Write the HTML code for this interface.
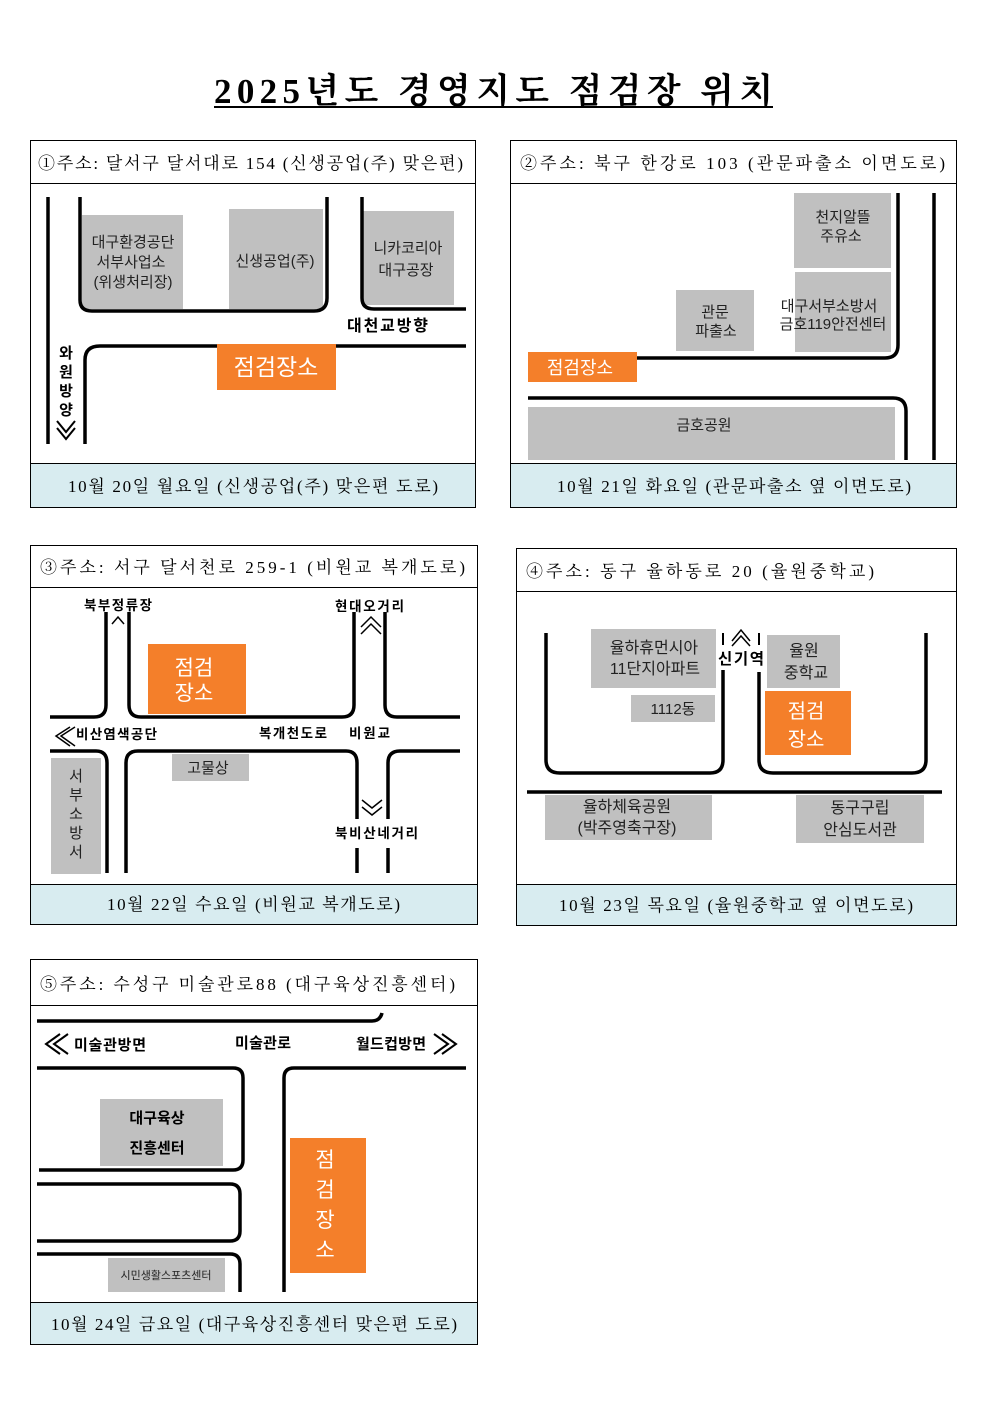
<!DOCTYPE html>
<html><head><meta charset="utf-8"><style>
html,body{margin:0;padding:0;background:#fff}
svg{display:block}
.s{font-family:"Liberation Serif","Noto Serif CJK SC",serif;fill:#000}
.g{font-family:"Liberation Sans","Noto Sans CJK KR",sans-serif;fill:#222}
.b{font-family:"Liberation Sans","Noto Sans CJK KR",sans-serif;font-weight:bold;fill:#000}
.w{font-family:"Liberation Sans","Noto Sans CJK KR",sans-serif;fill:#fff}
.r{fill:none;stroke:#000;stroke-width:3.5}
.gr{fill:#c0c0c0}
.o{fill:#f47f2a}
.ft{fill:#d8ecf0}
.bx{fill:none;stroke:#000;stroke-width:1}
</style></head><body>
<svg width="992" height="1403" viewBox="0 0 992 1403" xmlns="http://www.w3.org/2000/svg">
<rect width="992" height="1403" fill="#fff"/>
<text x="214" y="103" class="s" font-size="35" font-weight="bold" textLength="559" lengthAdjust="spacing">2025년도 경영지도 점검장 위치</text>
<line x1="214" y1="107" x2="773" y2="107" stroke="#000" stroke-width="2"/>

<!-- Panel 1 -->
<rect x="30" y="463" width="446" height="45" class="ft"/>
<rect x="30.5" y="140.5" width="445" height="367" class="bx"/>
<line x1="30" y1="183.5" x2="476" y2="183.5" stroke="#000"/>
<line x1="30" y1="463.5" x2="476" y2="463.5" stroke="#000"/>
<text x="38" y="169" class="s" font-size="17" textLength="425">①주소: 달서구 달서대로 154 (신생공업(주) 맞은편)</text>
<text x="68" y="492" class="s" font-size="17" textLength="370">10월 20일 월요일 (신생공업(주) 맞은편 도로)</text>
<rect x="82" y="215" width="101" height="94" class="gr"/>
<rect x="229" y="209" width="94" height="100" class="gr"/>
<rect x="363" y="211" width="91" height="94" class="gr"/>
<path class="r" d="M48 197 V444"/>
<path class="r" d="M80 197 V300 Q80 311 92 311 H314 Q327 311 327 298 V197"/>
<path class="r" d="M362 197 V298 Q362 309 374 309 H466"/>
<path class="r" d="M466 346 H100 Q85 346 85 360 V444"/>
<text x="133" y="247" class="g" font-size="15" text-anchor="middle">대구환경공단</text>
<text x="131" y="267" class="g" font-size="15" text-anchor="middle">서부사업소</text>
<text x="133" y="287" class="g" font-size="15" text-anchor="middle">(위생처리장)</text>
<text x="275" y="266" class="g" font-size="15" text-anchor="middle">신생공업(주)</text>
<text x="408" y="253" class="g" font-size="15" text-anchor="middle">니카코리아</text>
<text x="406" y="275" class="g" font-size="15" text-anchor="middle">대구공장</text>
<text x="347" y="331" class="b" font-size="16" textLength="81">대천교방향</text>
<rect x="217" y="344" width="119" height="46" class="o"/>
<text x="276" y="375" class="w" font-size="23" text-anchor="middle">점검장소</text>
<text x="66" y="358" class="b" font-size="15" text-anchor="middle">와</text>
<text x="66" y="377" class="b" font-size="15" text-anchor="middle">원</text>
<text x="66" y="396" class="b" font-size="15" text-anchor="middle">방</text>
<text x="66" y="415" class="b" font-size="15" text-anchor="middle">양</text>
<path d="M57 421 L66 432 L75 421 M57 428 L66 439 L75 428" fill="none" stroke="#000" stroke-width="2"/>

<!-- Panel 2 -->
<rect x="510" y="463" width="447" height="45" class="ft"/>
<rect x="510.5" y="140.5" width="446" height="367" class="bx"/>
<line x1="510" y1="183.5" x2="957" y2="183.5" stroke="#000"/>
<line x1="510" y1="463.5" x2="957" y2="463.5" stroke="#000"/>
<text x="520" y="169" class="s" font-size="17" textLength="425">②주소: 북구 한강로 103 (관문파출소 이면도로)</text>
<text x="557" y="492" class="s" font-size="17" textLength="354">10월 21일 화요일 (관문파출소 옆 이면도로)</text>
<rect x="794" y="193" width="97" height="75" class="gr"/>
<rect x="795" y="272" width="96" height="80" class="gr"/>
<rect x="676" y="290" width="78" height="61" class="gr"/>
<rect x="528" y="407" width="367" height="53" class="gr"/>
<path class="r" d="M898 193 V345 Q898 358 885 358 H637"/>
<path class="r" d="M934 193 V460"/>
<path class="r" d="M528 398 H893 Q906 398 906 411 V460"/>
<text x="843" y="222" class="g" font-size="15" text-anchor="middle">천지알뜰</text>
<text x="841" y="241" class="g" font-size="15" text-anchor="middle">주유소</text>
<text x="715" y="317" class="g" font-size="15" text-anchor="middle">관문</text>
<text x="716" y="336" class="g" font-size="15" text-anchor="middle">파출소</text>
<text x="829" y="311" class="g" font-size="15" text-anchor="middle">대구서부소방서</text>
<text x="833" y="329" class="g" font-size="15" text-anchor="middle">금호119안전센터</text>
<text x="704" y="430" class="g" font-size="15" text-anchor="middle">금호공원</text>
<rect x="528" y="352" width="109" height="30" class="o"/>
<text x="580" y="374" class="w" font-size="18" text-anchor="middle">점검장소</text>

<!-- Panel 3 -->
<rect x="30" y="884" width="448" height="41" class="ft"/>
<rect x="30.5" y="545.5" width="447" height="379" class="bx"/>
<line x1="30" y1="587.5" x2="478" y2="587.5" stroke="#000"/>
<line x1="30" y1="884.5" x2="478" y2="884.5" stroke="#000"/>
<text x="40" y="573" class="s" font-size="17" textLength="425">③주소: 서구 달서천로 259-1 (비원교 복개도로)</text>
<text x="107" y="910" class="s" font-size="17" textLength="293">10월 22일 수요일 (비원교 복개도로)</text>
<path class="r" d="M106 612 V705 Q106 717 94 717 H50"/>
<path class="r" d="M129 612 V705 Q129 717 141 717 H342 Q354 717 354 705 V612"/>
<path class="r" d="M385 612 V705 Q385 717 397 717 H460"/>
<path class="r" d="M50 751 H96 Q107 751 107 763 V873"/>
<path class="r" d="M126 873 V763 Q126 751 138 751 H346 Q357 751 357 763 V819"/>
<path class="r" d="M357 848 V873 M388 848 V873"/>
<path class="r" d="M388 819 V763 Q388 751 400 751 H460"/>
<rect x="148" y="644" width="98" height="70" class="o"/>
<text x="194" y="675" class="w" font-size="21" text-anchor="middle">점검</text>
<text x="194" y="700" class="w" font-size="21" text-anchor="middle">장소</text>
<rect x="172" y="754" width="77" height="27" class="gr"/>
<text x="208" y="773" class="g" font-size="15" text-anchor="middle">고물상</text>
<rect x="51" y="758" width="50" height="116" class="gr"/>
<text x="76" y="781" class="g" font-size="15" text-anchor="middle">서</text>
<text x="76" y="800" class="g" font-size="15" text-anchor="middle">부</text>
<text x="76" y="819" class="g" font-size="15" text-anchor="middle">소</text>
<text x="76" y="838" class="g" font-size="15" text-anchor="middle">방</text>
<text x="76" y="857" class="g" font-size="15" text-anchor="middle">서</text>
<text x="84" y="610" class="b" font-size="13.5" textLength="68">북부정류장</text>
<path d="M112 624 L118 617 L124 624" fill="none" stroke="#000" stroke-width="1.5"/>
<text x="335" y="611" class="b" font-size="13.5" textLength="69">현대오거리</text>
<path d="M361 627 L371 617 L381 627 M361 634 L371 624 L381 634" fill="none" stroke="#000" stroke-width="1.5"/>
<path d="M70 727 L56 736 L70 746 M75 727 L61 736 L75 746" fill="none" stroke="#000" stroke-width="1.5"/>
<text x="76" y="739" class="b" font-size="13.5" textLength="81">비산염색공단</text>
<text x="259" y="738" class="b" font-size="13.5" textLength="68">복개천도로</text>
<text x="349" y="738" class="b" font-size="13.5" textLength="41">비원교</text>
<path d="M362 800 L372 808 L382 800 M362 807 L372 815 L382 807" fill="none" stroke="#000" stroke-width="1.5"/>
<text x="335" y="838" class="b" font-size="13.5" textLength="83">북비산네거리</text>

<!-- Panel 4 -->
<rect x="516" y="884" width="441" height="42" class="ft"/>
<rect x="516.5" y="548.5" width="440" height="377" class="bx"/>
<line x1="516" y1="591.5" x2="957" y2="591.5" stroke="#000"/>
<line x1="516" y1="884.5" x2="957" y2="884.5" stroke="#000"/>
<text x="526" y="577" class="s" font-size="17" textLength="348">④주소: 동구 율하동로 20 (율원중학교)</text>
<text x="559" y="911" class="s" font-size="17" textLength="354">10월 23일 목요일 (율원중학교 옆 이면도로)</text>
<path class="r" d="M546 633 V760 Q546 773 560 773 H710 Q723 773 723 760 V670"/>
<path class="r" d="M759 672 V760 Q759 773 773 773 H912 Q926 773 926 760 V633"/>
<path d="M723 633 V645 M759 633 V645" stroke="#000" stroke-width="2"/>
<path class="r" d="M527 792 H942"/>
<rect x="591" y="629" width="125" height="59" class="gr"/>
<rect x="631" y="695" width="84" height="27" class="gr"/>
<rect x="767" y="635" width="73" height="53" class="gr"/>
<rect x="545" y="795" width="167" height="45" class="gr"/>
<rect x="796" y="795" width="128" height="48" class="gr"/>
<rect x="765" y="691" width="86" height="64" class="o"/>
<text x="654" y="653" class="g" font-size="16" text-anchor="middle">율하휴먼시아</text>
<text x="655" y="674" class="g" font-size="16" text-anchor="middle">11단지아파트</text>
<text x="673" y="714" class="g" font-size="15" text-anchor="middle">1112동</text>
<text x="804" y="656" class="g" font-size="16" text-anchor="middle">율원</text>
<text x="806" y="678" class="g" font-size="16" text-anchor="middle">중학교</text>
<text x="806" y="718" class="w" font-size="20" text-anchor="middle">점검</text>
<text x="806" y="746" class="w" font-size="20" text-anchor="middle">장소</text>
<path d="M732 641 L741 630 L750 641 M732 646 L741 636 L750 646" fill="none" stroke="#000" stroke-width="1.5"/>
<text x="718" y="664" class="b" font-size="15.5" textLength="46">신기역</text>
<text x="627" y="812" class="g" font-size="16" text-anchor="middle">율하체육공원</text>
<text x="627" y="833" class="g" font-size="16" text-anchor="middle">(박주영축구장)</text>
<text x="860" y="813" class="g" font-size="16" text-anchor="middle">동구구립</text>
<text x="860" y="835" class="g" font-size="16" text-anchor="middle">안심도서관</text>

<!-- Panel 5 -->
<rect x="30" y="1302" width="448" height="43" class="ft"/>
<rect x="30.5" y="959.5" width="447" height="385" class="bx"/>
<line x1="30" y1="1005.5" x2="478" y2="1005.5" stroke="#000"/>
<line x1="30" y1="1302.5" x2="478" y2="1302.5" stroke="#000"/>
<text x="40" y="990" class="s" font-size="17" textLength="415">⑤주소: 수성구 미술관로88 (대구육상진흥센터)</text>
<text x="51" y="1330" class="s" font-size="17" textLength="406">10월 24일 금요일 (대구육상진흥센터 맞은편 도로)</text>
<path class="r" d="M37 1021 H372 Q380 1021 382 1013"/>
<path class="r" d="M37 1068 H233 Q243 1068 243 1078 V1160 Q243 1170 233 1170 H39"/>
<path class="r" d="M37 1184 H230 Q240 1184 240 1194 V1231 Q240 1241 230 1241 H37"/>
<path class="r" d="M37 1254 H230 Q240 1254 240 1264 V1292"/>
<path class="r" d="M284 1292 V1078 Q284 1068 294 1068 H466"/>
<rect x="100" y="1099" width="123" height="67" class="gr"/>
<text x="157" y="1123" class="b" font-size="15" text-anchor="middle" fill="#222">대구육상</text>
<text x="157" y="1153" class="b" font-size="15" text-anchor="middle" fill="#222">진흥센터</text>
<rect x="108" y="1258" width="117" height="34" class="gr"/>
<text x="166" y="1279" class="g" font-size="11" text-anchor="middle">시민생활스포츠센터</text>
<rect x="290" y="1138" width="76" height="135" class="o"/>
<text x="325" y="1167" class="w" font-size="21" text-anchor="middle">점</text>
<text x="325" y="1197" class="w" font-size="21" text-anchor="middle">검</text>
<text x="325" y="1227" class="w" font-size="21" text-anchor="middle">장</text>
<text x="325" y="1257" class="w" font-size="21" text-anchor="middle">소</text>
<path d="M60 1034 L46 1044 L60 1054 M68 1034 L54 1044 L68 1054" fill="none" stroke="#000" stroke-width="2"/>
<text x="74" y="1050" class="b" font-size="15" textLength="72">미술관방면</text>
<text x="235" y="1048" class="b" font-size="15" textLength="56">미술관로</text>
<text x="356" y="1049" class="b" font-size="15" textLength="70">월드컵방면</text>
<path d="M434 1034 L448 1044 L434 1054 M442 1034 L456 1044 L442 1054" fill="none" stroke="#000" stroke-width="2"/>
</svg>
</body></html>
